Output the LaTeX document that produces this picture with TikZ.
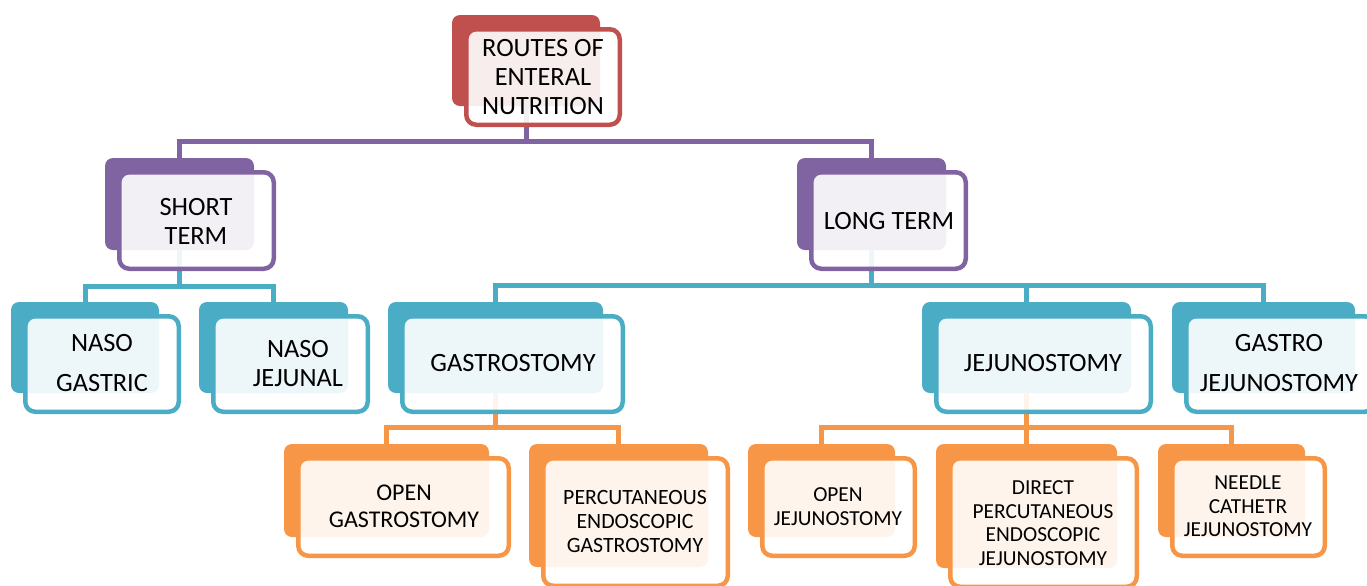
\documentclass[tikz,border=0pt]{standalone}
\usepackage{fontspec}
\setmainfont{Carlito}
\usepackage{xcolor}
\usepackage{tikz}
\definecolor{rootred}{RGB}{192,80,77}
\definecolor{termpurple}{RGB}{128,100,162}
\definecolor{routecyan}{RGB}{75,172,198}
\definecolor{procorange}{RGB}{247,150,70}

\begin{document}
\begin{tikzpicture}[x=0.5pt,y=-0.5pt,back/.style={rounded corners=4pt,inner sep=0pt,fill=#1},front/.style={rounded corners=5pt,inner sep=0pt,draw=#1,line width=2.25pt,fill=white,fill opacity=0.9},link/.style={line width=2.5pt,draw=#1},lbl/.style={align=center,inner sep=0pt,font=\fontsize{13.2}{14.5}\selectfont},lblmid/.style={lbl,font=\fontsize{12}{13.5}\selectfont},lblsmall/.style={lbl,font=\fontsize{10.7}{11.8}\selectfont}]
\useasboundingbox (0,0) rectangle (1367,585);
\clip (0,0) rectangle (1367,585);
\node[back=rootred,minimum width=74pt,minimum height=45.5pt] (rootb) at (526,60.5) {};
\node[back=termpurple,minimum width=74.5pt,minimum height=46pt] (shortb) at (179.5,204) {};
\node[back=termpurple,minimum width=74.5pt,minimum height=46pt] (longb) at (871.5,204) {};
\node[back=routecyan,minimum width=74pt,minimum height=45.5pt] (nasogb) at (85,347.5) {};
\node[back=routecyan,minimum width=74.5pt,minimum height=45.5pt] (nasojb) at (273.5,347.5) {};
\node[back=routecyan,minimum width=107.5pt,minimum height=45.5pt] (gastrob) at (495.5,347.5) {};
\node[back=routecyan,minimum width=104.5pt,minimum height=45.5pt] (jejunob) at (1026.5,347.5) {};
\node[back=routecyan,minimum width=91.5pt,minimum height=45.5pt] (gjejb) at (1263.5,347.5) {};
\node[back=procorange,minimum width=102.5pt,minimum height=46.5pt] (opgb) at (386.5,490.5) {};
\node[back=procorange,minimum width=89.5pt,minimum height=61.5pt] (pegb) at (618.5,505.5) {};
\node[back=procorange,minimum width=73.5pt,minimum height=46.5pt] (opjb) at (821.5,490.5) {};
\node[back=procorange,minimum width=90.5pt,minimum height=62pt] (dpejb) at (1026.5,506) {};
\node[back=procorange,minimum width=73.5pt,minimum height=46.5pt] (ncjb) at (1231.5,490.5) {};
\coordinate (bus0) at (0,141);
\coordinate (bus1) at (0,286);
\coordinate (bus2) at (0,285);
\coordinate (bus3) at (0,427);
\draw[link=termpurple] (rootb.south) |- (shortb.north |- bus0) -- (shortb.north);
\draw[link=termpurple] (rootb.south) |- (longb.north |- bus0) -- (longb.north);
\draw[link=routecyan] (shortb.south) |- (nasogb.north |- bus1) -- (nasogb.north);
\draw[link=routecyan] (shortb.south) |- (nasojb.north |- bus1) -- (nasojb.north);
\draw[link=routecyan] (longb.south) |- (gastrob.north |- bus2) -- (gastrob.north);
\draw[link=routecyan] (longb.south) |- (jejunob.north |- bus2) -- (jejunob.north);
\draw[link=routecyan] (longb.south) |- (gjejb.north |- bus2) -- (gjejb.north);
\draw[link=procorange] (gastrob.south) |- (opgb.north |- bus3) -- (opgb.north);
\draw[link=procorange] (gastrob.south) |- (pegb.north |- bus3) -- (pegb.north);
\draw[link=procorange] (jejunob.south) |- (opjb.north |- bus3) -- (opjb.north);
\draw[link=procorange] (jejunob.south) -- (dpejb.north);
\draw[link=procorange] (jejunob.south) |- (ncjb.north |- bus3) -- (ncjb.north);
\node[front=rootred,minimum width=76.75pt,minimum height=47.75pt] (root) at ([shift={(17,16.5)}]rootb.center) {};
\node[front=termpurple,minimum width=77.25pt,minimum height=48.25pt] (short) at ([shift={(17,16.5)}]shortb.center) {};
\node[front=termpurple,minimum width=77.25pt,minimum height=48.25pt] (long) at ([shift={(17,16.5)}]longb.center) {};
\node[front=routecyan,minimum width=76.75pt,minimum height=47.75pt] (nasog) at ([shift={(17,16.5)}]nasogb.center) {};
\node[front=routecyan,minimum width=77.25pt,minimum height=47.75pt] (nasoj) at ([shift={(17,16.5)}]nasojb.center) {};
\node[front=routecyan,minimum width=110.25pt,minimum height=47.75pt] (gastro) at ([shift={(17,16.5)}]gastrob.center) {};
\node[front=routecyan,minimum width=107.25pt,minimum height=47.75pt] (jejuno) at ([shift={(17,16.5)}]jejunob.center) {};
\node[front=routecyan,minimum width=94.25pt,minimum height=47.75pt] (gjej) at ([shift={(17,16.5)}]gjejb.center) {};
\node[front=procorange,minimum width=105.25pt,minimum height=48.75pt] (opg) at ([shift={(17,16.5)}]opgb.center) {};
\node[front=procorange,minimum width=92.25pt,minimum height=63.75pt] (peg) at ([shift={(17,16.5)}]pegb.center) {};
\node[front=procorange,minimum width=76.25pt,minimum height=48.75pt] (opj) at ([shift={(17,16.5)}]opjb.center) {};
\node[front=procorange,minimum width=93.25pt,minimum height=64.25pt] (dpej) at ([shift={(17,16.5)}]dpejb.center) {};
\node[front=procorange,minimum width=76.25pt,minimum height=48.75pt] (ncj) at ([shift={(17,16.5)}]ncjb.center) {};
\node[lbl] (root-t) at (543,77) {ROUTES OF\\ENTERAL\\NUTRITION};
\node[lbl] (short-t) at (196,221.5) {SHORT\\TERM};
\node[lbl] (long-t) at (889,221) {LONG TERM};
\node[lbl] (nasog-t) at (102,363) {NASO\\[5.75pt]GASTRIC};
\node[lbl] (nasoj-t) at (298,363.5) {NASO\\JEJUNAL};
\node[lbl] (gastro-t) at (513,363) {GASTROSTOMY};
\node[lbl] (jejuno-t) at (1043,363) {JEJUNOSTOMY};
\node[lbl] (gjej-t) at (1279,363) {GASTRO\\[5.75pt]JEJUNOSTOMY};
\node[lblmid] (opg-t) at (404,506.5) {OPEN\\GASTROSTOMY};
\node[lblsmall,font=\fontsize{10.9}{12}\selectfont] (peg-t) at (635,521) {PERCUTANEOUS\\ENDOSCOPIC\\GASTROSTOMY};
\node[lblsmall] (opj-t) at (838,506.5) {OPEN\\JEJUNOSTOMY};
\node[lblsmall] (dpej-t) at (1043,523) {DIRECT\\PERCUTANEOUS\\ENDOSCOPIC\\JEJUNOSTOMY};
\node[lblsmall] (ncj-t) at (1248,506.5) {NEEDLE\\CATHETR\\JEJUNOSTOMY};
\end{tikzpicture}
\end{document}
